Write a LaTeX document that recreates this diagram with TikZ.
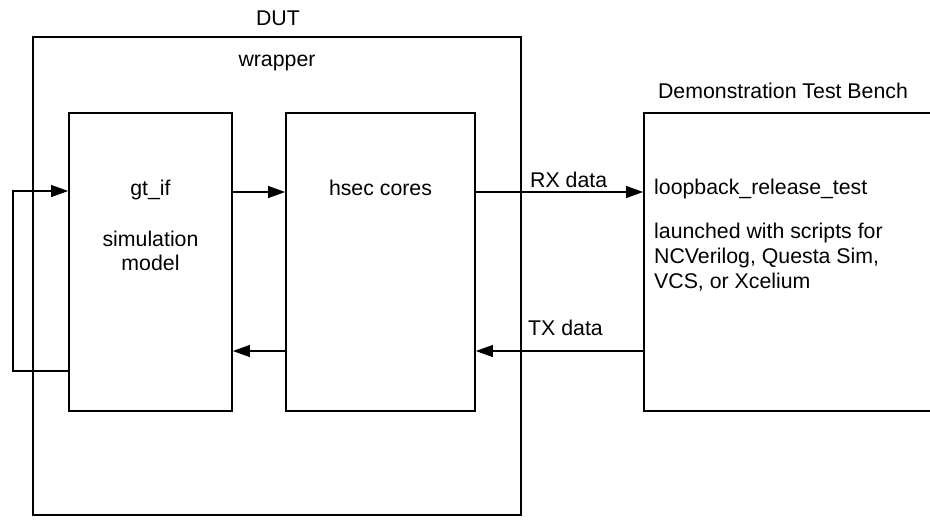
\documentclass[tikz,border=0pt]{standalone}
\usepackage{fontspec}
\setmainfont{Liberation Sans}
\usetikzlibrary{arrows.meta}
\begin{document}
\begin{tikzpicture}[x=1pt,y=-1pt,
  boxline/.style={draw=black,line width=1.8pt,inner sep=0pt,rectangle},
  arr/.style={draw=black,line width=1.2pt,-{Triangle[length=17pt,width=12pt]}},
  lbl/.style={anchor=base,inner sep=0pt,font=\fontsize{21.3}{25}\selectfont},
  lbll/.style={anchor=base west,inner sep=0pt,font=\fontsize{21.3}{25}\selectfont}]
\useasboundingbox (0,0) rectangle (930,520);
\clip (0,0) rectangle (930,520);
% boxes
\node[boxline,minimum width=488pt,minimum height=478pt] (dut) at (277,276) {};
\node[boxline,minimum width=163pt,minimum height=298pt] (gtif) at (150.5,262) {};
\node[boxline,minimum width=189pt,minimum height=298pt] (hsec) at (380.5,262) {};
\node[boxline,minimum width=300pt,minimum height=298pt,anchor=west] (tb) at (643,262) {};
% labels
\node[lbl] (dutl) at (278,25) {DUT};
\node[lbl] (wrapl) at (277,66) {wrapper};
\node[lbl] (gt1) at (150.5,195) {gt\_if};
\node[lbl] (gt2) at (150.5,246) {simulation};
\node[lbl] (gt3) at (150.5,270) {model};
\node[lbl] (hsecl) at (380.5,195) {hsec cores};
\node[lbl] (tbl) at (783,98) {Demonstration Test Bench};
\node[lbll] (tb1) at (654,194) {loopback\_release\_test};
\node[lbll] (tb2) at (654,238) {launched with scripts for};
\node[lbll] (tb3) at (654,263) {NCVerilog, Questa Sim,};
\node[lbll] (tb4) at (654,288) {VCS, or Xcelium};
\node[lbll] (rxl) at (530,187) {RX data};
\node[lbll] (txl) at (528,335) {TX data};
% connector levels
\coordinate (ytop) at (0,192);
\coordinate (ybot) at (0,351);
\coordinate (lpb) at (13,371);
\coordinate (lpt) at (13,191);
% connectors
\draw[arr] (gtif.west |- lpb) -- (lpb) -- (lpt) -- (gtif.west |- lpt);
\draw[arr] (gtif.east |- ytop) -- (hsec.west |- ytop);
\draw[arr] (hsec.east |- ytop) -- (tb.west |- ytop);
\draw[arr] (tb.west |- ybot) -- (hsec.east |- ybot);
\draw[arr] (hsec.west |- ybot) -- (gtif.east |- ybot);
\end{tikzpicture}
\end{document}
